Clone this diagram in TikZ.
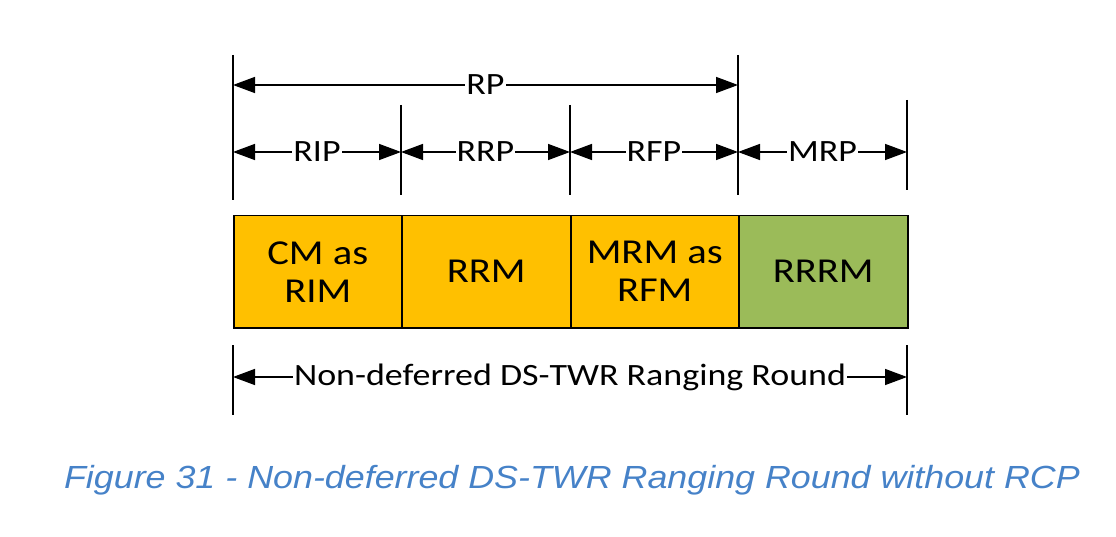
\documentclass[tikz,border=0pt]{standalone}
\usepackage{fontspec}
\setmainfont{Carlito}
\newfontfamily\capfont{Liberation Sans}
\usetikzlibrary{arrows.meta}
\definecolor{orng}{RGB}{255,192,0}
\definecolor{grn}{RGB}{155,187,89}
\definecolor{capblue}{RGB}{70,130,200}
\newcommand{\wide}[2][1.16]{\scalebox{#1}[1]{#2}}
\begin{document}
\begin{tikzpicture}[x=1pt,y=-1pt,
  tick/.style={line width=1.5pt},
  dim/.style={line width=1.5pt,{Triangle[length=22pt,width=16pt]}-{Triangle[length=22pt,width=16pt]}},
  lbl/.style={fill=white,inner sep=1pt,font=\fontsize{31}{34}\selectfont},
  box/.style={draw=black,line width=1.5pt,minimum height=112pt,anchor=north west,align=center,font=\fontsize{35}{38}\selectfont,inner sep=0pt}]
\useasboundingbox (0,0) rectangle (1116,537);
% ticks
\draw[tick] (233,55) -- (233,200);
\draw[tick] (738,55) -- (738,195);
\draw[tick] (401,105) -- (401,195);
\draw[tick] (570,105) -- (570,195);
\draw[tick] (907,100) -- (907,190);
\draw[tick] (233,345) -- (233,415);
\draw[tick] (907,345) -- (907,415);
% coordinates
\coordinate (a0) at (233,85); \coordinate (a1) at (738,85);
\coordinate (b0) at (233,152); \coordinate (b1) at (401,152);
\coordinate (b2) at (570,152); \coordinate (b3) at (738,152); \coordinate (b4) at (907,152);
\coordinate (c0) at (233,377); \coordinate (c1) at (907,377);
\draw[dim] (a0) -- node[lbl] (rp) {\wide{RP}} (a1);
\draw[dim] (b0) -- node[lbl] (rip) {\wide{RIP}} (b1);
\draw[dim] (b1) -- node[lbl] (rrp) {\wide{RRP}} (b2);
\draw[dim] (b2) -- node[lbl] (rfp) {\wide{RFP}} (b3);
\draw[dim] (b3) -- node[lbl] (mrp) {\wide{MRP}} (b4);
\draw[dim] (c0) -- node[lbl] (nd) {\wide{Non-deferred DS-TWR Ranging Round}} (c1);
% boxes
\node[box,fill=orng,minimum width=168pt] (cm) at (233,215) {\wide{CM as}\\\wide{RIM}};
\node[box,fill=orng,minimum width=169pt] (rrm) at (401,215) {\wide{RRM}};
\node[box,fill=orng,minimum width=168pt] (mrm) at (570,215) {\wide{MRM as}\\\wide{RFM}};
\node[box,fill=grn,minimum width=169pt] (rrrm) at (738,215) {\wide{RRRM}};
\node[font=\capfont\itshape\fontsize{32}{36}\selectfont,text=capblue] (cap) at (572,480) {\wide[1.12]{Figure 31 - Non-deferred DS-TWR Ranging Round without RCP}};
\end{tikzpicture}
\end{document}
